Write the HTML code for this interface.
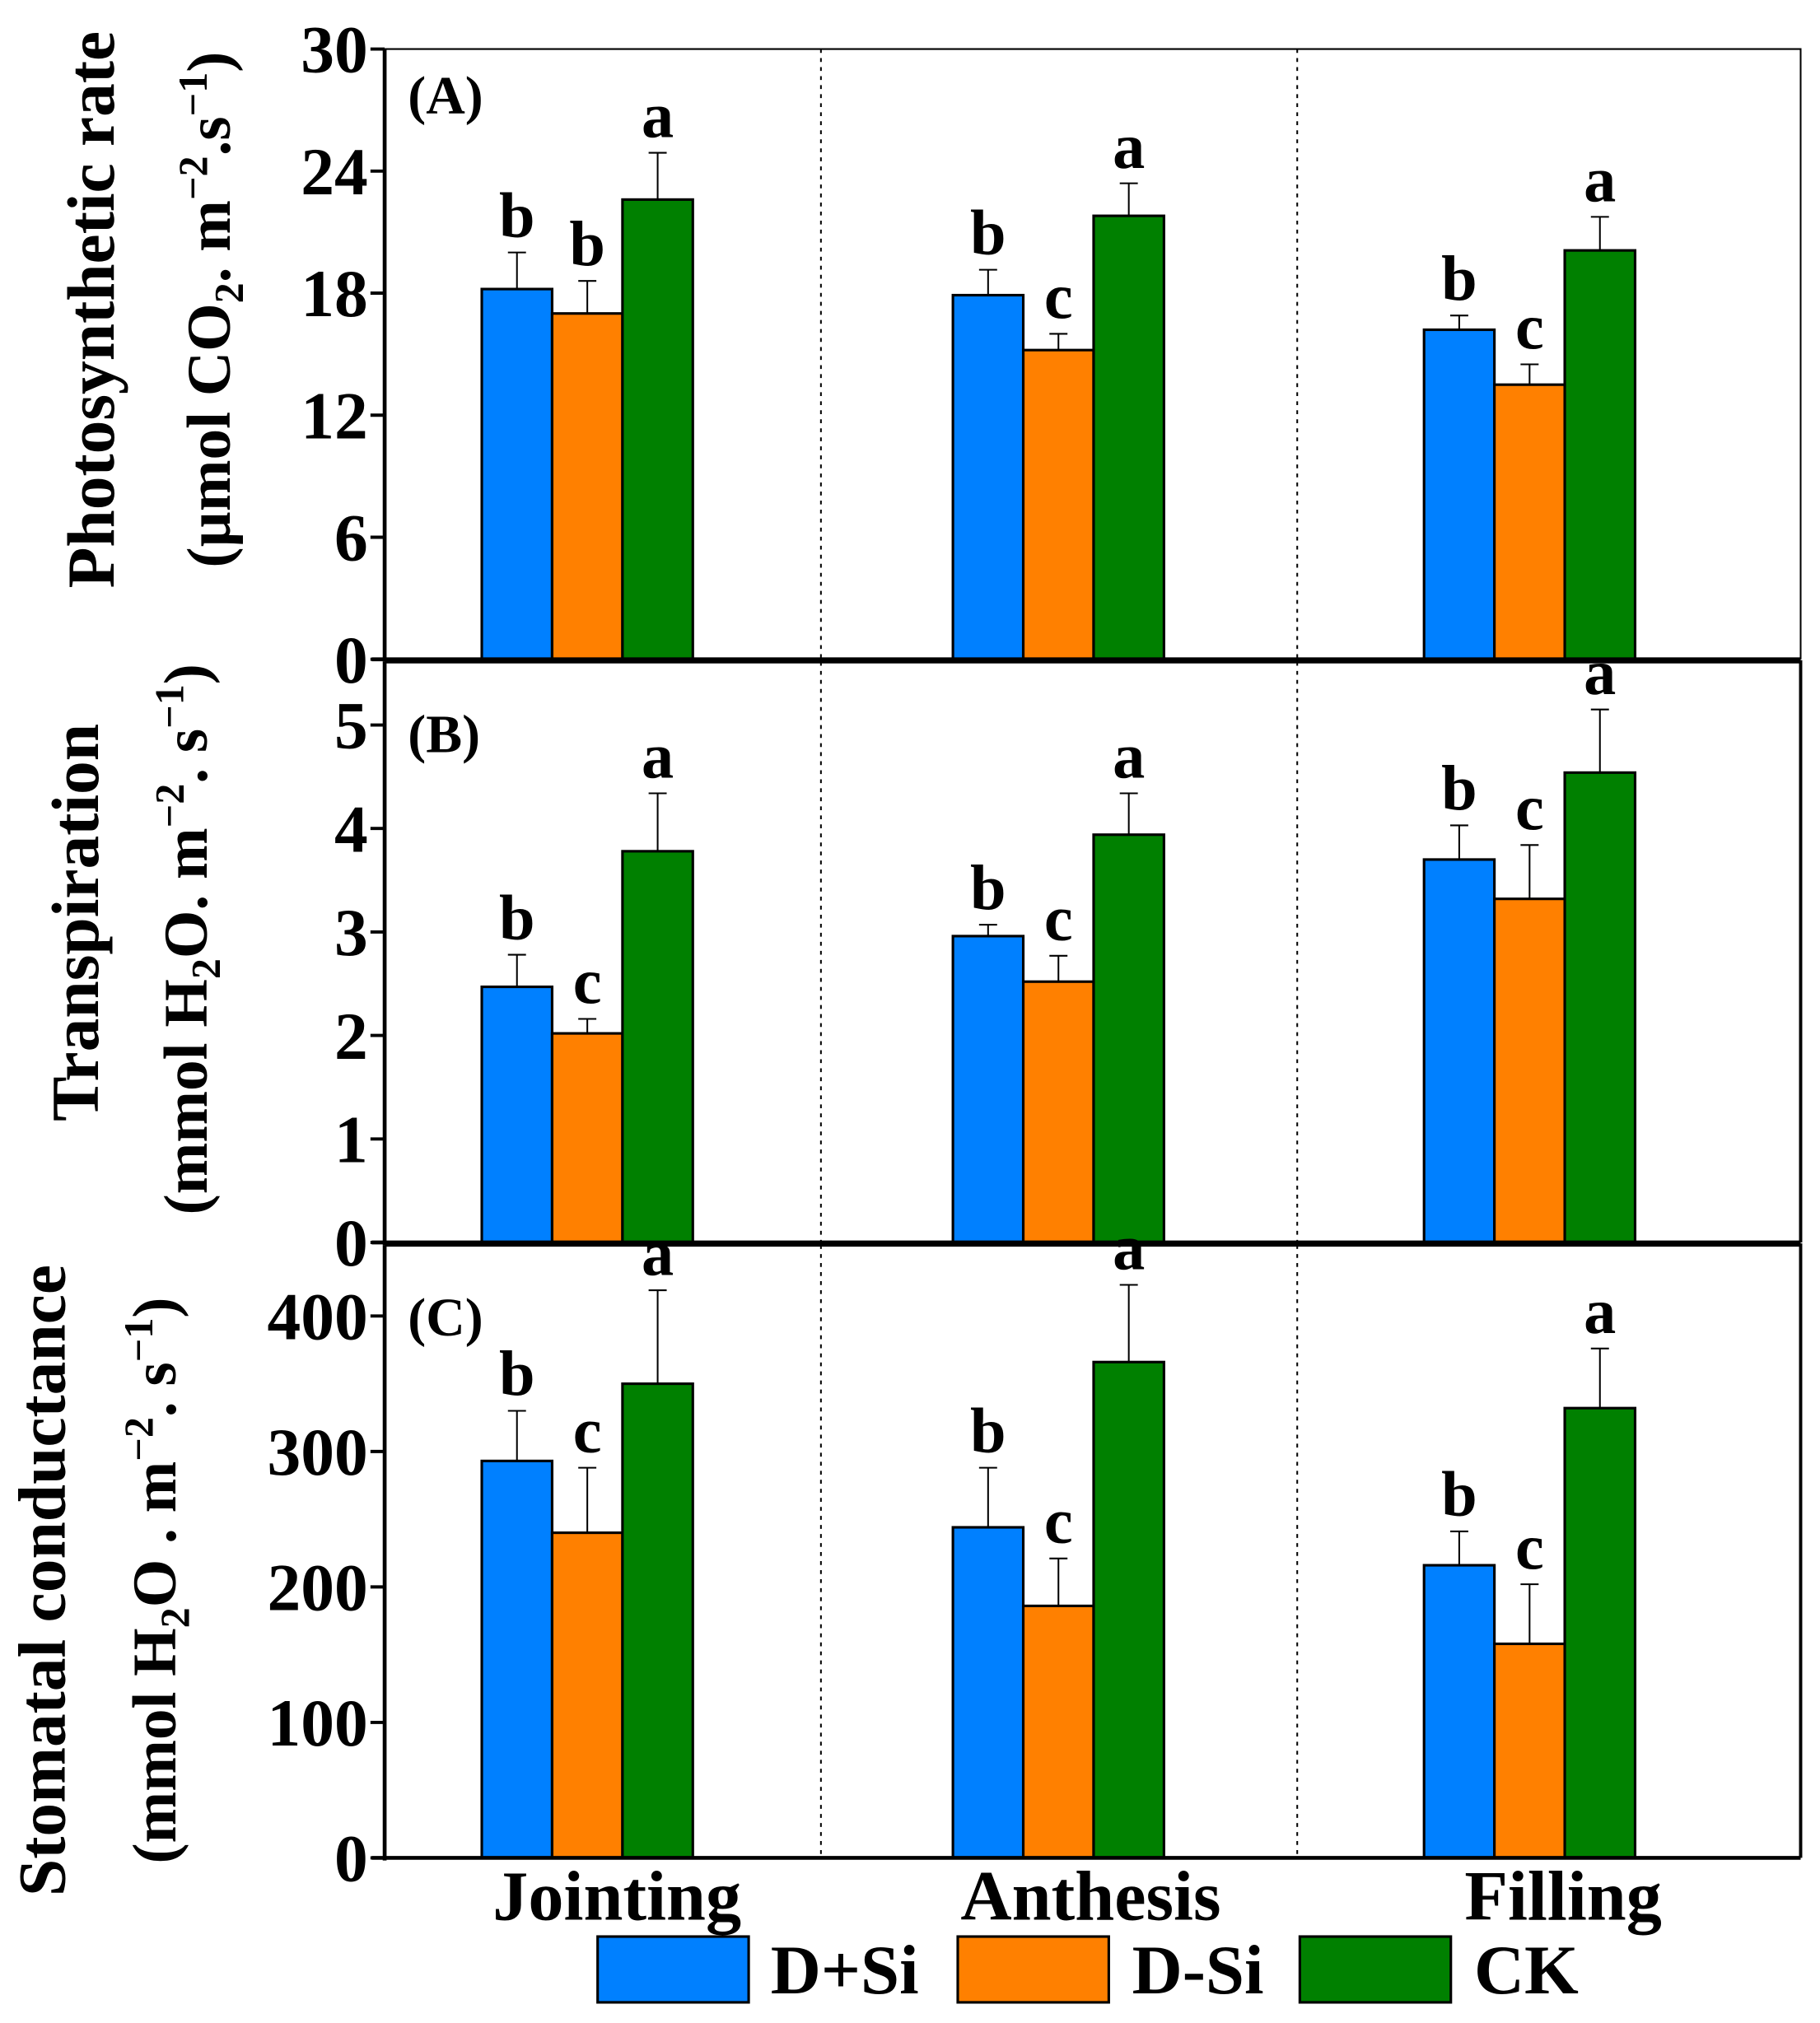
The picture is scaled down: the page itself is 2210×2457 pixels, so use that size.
<!DOCTYPE html>
<html><head><meta charset="utf-8"><style>
html,body{margin:0;padding:0;background:#fff;}
svg{display:block;font-family:"Liberation Serif",serif;font-weight:bold;}
</style></head><body>
<svg id="chart" width="2210" height="2457" viewBox="0 0 1410 1568" preserveAspectRatio="none" xmlns="http://www.w3.org/2000/svg">
<g id="g"></g>
<!-- y titles -->
<text transform="translate(88,240) rotate(-90)" text-anchor="middle" font-size="52">Photosynthetic rate</text>
<text transform="translate(178,240) rotate(-90)" text-anchor="middle" font-size="48">(µmol CO<tspan font-size="32" dy="10">2</tspan><tspan dy="-10">. m</tspan><tspan font-size="32" dy="-18">−2</tspan><tspan dy="18">.s</tspan><tspan font-size="32" dy="-18">−1</tspan><tspan dy="18">)</tspan></text>
<text transform="translate(76,715) rotate(-90)" text-anchor="middle" font-size="52">Transpiration</text>
<text transform="translate(160,728) rotate(-90)" text-anchor="middle" font-size="48">(mmol H<tspan font-size="32" dy="10">2</tspan><tspan dy="-10">O. m</tspan><tspan font-size="32" dy="-18">−2</tspan><tspan dy="18">. s</tspan><tspan font-size="32" dy="-18">−1</tspan><tspan dy="18">)</tspan></text>
<text transform="translate(50,1225) rotate(-90)" text-anchor="middle" font-size="52">Stomatal conductance</text>
<text transform="translate(136,1225) rotate(-90)" text-anchor="middle" font-size="48">(mmol H<tspan font-size="32" dy="10">2</tspan><tspan dy="-10">O . m</tspan><tspan font-size="32" dy="-18">−2</tspan><tspan dy="18">. s</tspan><tspan font-size="32" dy="-18">−1</tspan><tspan dy="18">)</tspan></text>
<!-- categories -->
<text x="478" y="1488" text-anchor="middle" font-size="55">Jointing</text>
<text x="845" y="1488" text-anchor="middle" font-size="55">Anthesis</text>
<text x="1211" y="1488" text-anchor="middle" font-size="55">Filling</text>
<!-- legend -->
<g>
<rect x="463" y="1501" width="117" height="51" fill="#0080ff" stroke="#000" stroke-width="2"/>
<text x="597" y="1545" font-size="54">D+Si</text>
<rect x="742" y="1501" width="117" height="51" fill="#ff8000" stroke="#000" stroke-width="2"/>
<text x="877" y="1545" font-size="54">D-Si</text>
<rect x="1007" y="1501" width="117" height="51" fill="#008000" stroke="#000" stroke-width="2"/>
<text x="1142" y="1545" font-size="54">CK</text>
</g>
</svg>
<script>
const categories = ["Jointing", "Anthesis", "Filling"];
const seriesNames = ["D+Si", "D-Si", "CK"];
const photoValues = [[18.2, 17.0, 22.6], [17.9, 15.2, 21.8], [16.2, 13.5, 20.1]];
const photoErrors = [[1.8, 1.6, 2.3], [1.25, 0.8, 1.6], [0.7, 1.0, 1.65]];
const photoLetters = [["b", "b", "a"], ["b", "c", "a"], ["b", "c", "a"]];
const photoTicks = [0, 6, 12, 18, 24, 30];
const transValues = [[2.47, 2.02, 3.78], [2.96, 2.52, 3.94], [3.70, 3.32, 4.54]];
const transErrors = [[0.31, 0.14, 0.56], [0.11, 0.25, 0.40], [0.33, 0.52, 0.61]];
const transLetters = [["b", "c", "a"], ["b", "c", "a"], ["b", "c", "a"]];
const transTicks = [0, 1, 2, 3, 4, 5];
const condValues = [[293, 240, 350], [244, 186, 366], [216, 158, 332]];
const condErrors = [[37, 48, 69], [44, 35, 57], [25, 44, 44]];
const condLetters = [["b", "c", "a"], ["b", "c", "a"], ["b", "c", "a"]];
const condTicks = [0, 100, 200, 300, 400];

const NS = "http://www.w3.org/2000/svg";
const g = document.getElementById("g");
const colors = ["#0080ff", "#ff8000", "#008000"];
function mk(tag, attrs, parent) {
  const e = document.createElementNS(NS, tag);
  for (const k in attrs) e.setAttribute(k, attrs[k]);
  (parent || g).appendChild(e);
  return e;
}
const xLeft = 298, xRight = 1395;
const groupCenters = [455, 820, 1185];
const barW = 54.5;
function xScale(ci, si) { return groupCenters[ci] + (si - 1.5) * barW; }

function panel(id, top, bottom, maxV, ticks, values, errors, letters, label, labelY, rightW) {
  const y = v => bottom - (v / maxV) * (bottom - top);
  const pg = mk("g", {});
  
  
  const fr = mk("path", {d: `M${xLeft},${top} H${xRight} V${bottom}`, fill: "none", stroke: "#000", "stroke-width": rightW}, pg);
  
  
  [636, 1005].forEach((dx, i) => {
    const l = mk("line", {x1: dx, x2: dx, y1: top, y2: bottom, stroke: "#000", "stroke-width": 1.3, "stroke-dasharray": "3,4"}, pg);
    
    
  });
  values.forEach((row, ci) => row.forEach((v, si) => {
    const x0 = xScale(ci, si);
    const yt = y(v), ye = y(v + errors[ci][si]);
    const xc = x0 + barW / 2;
    const el = mk("line", {x1: xc, x2: xc, y1: yt, y2: ye, stroke: "#000", "stroke-width": 1.3}, pg);
    
    
    const ec = mk("line", {x1: xc - 7, x2: xc + 7, y1: ye, y2: ye, stroke: "#000", "stroke-width": 1.3}, pg);
    
    
    const r = mk("rect", {x: x0, y: yt, width: barW, height: bottom - yt, fill: colors[si], stroke: "#000", "stroke-width": 2}, pg);
    
    
    const t = mk("text", {x: xc, y: ye - 12, "text-anchor": "middle", "font-size": 50}, pg);
    t.textContent = letters[ci][si];
    
    
  }));
  const la = mk("line", {x1: xLeft, x2: xLeft, y1: top, y2: bottom + 2, stroke: "#000", "stroke-width": 3}, pg);
  
  
  const ba = mk("line", {x1: xLeft - 10, x2: xRight, y1: bottom, y2: bottom, stroke: "#000", "stroke-width": 3}, pg);
  
  
  ticks.forEach(tv => {
    const ty = y(tv);
    const tl = mk("line", {x1: xLeft - 11, x2: xLeft, y1: ty, y2: ty, stroke: "#000", "stroke-width": 2.5}, pg);
    
    
    const tt = mk("text", {x: xLeft - 13, y: ty + 18, "text-anchor": "end", "font-size": 52}, pg);
    tt.textContent = tv;
    
    
  });
  const pl = mk("text", {x: 316, y: labelY, "font-size": 42}, pg);
  pl.textContent = label;
  
  
}
panel("a", 38, 511, 30, photoTicks, photoValues, photoErrors, photoLetters, "(A)", 88, 1.3);
panel("b", 513, 963, 5.61, transTicks, transValues, transErrors, transLetters, "(B)", 583, 2.5);
panel("c", 965, 1440, 452.4, condTicks, condValues, condErrors, condLetters, "(C)", 1035, 2.5);
</script>
</body></html>
